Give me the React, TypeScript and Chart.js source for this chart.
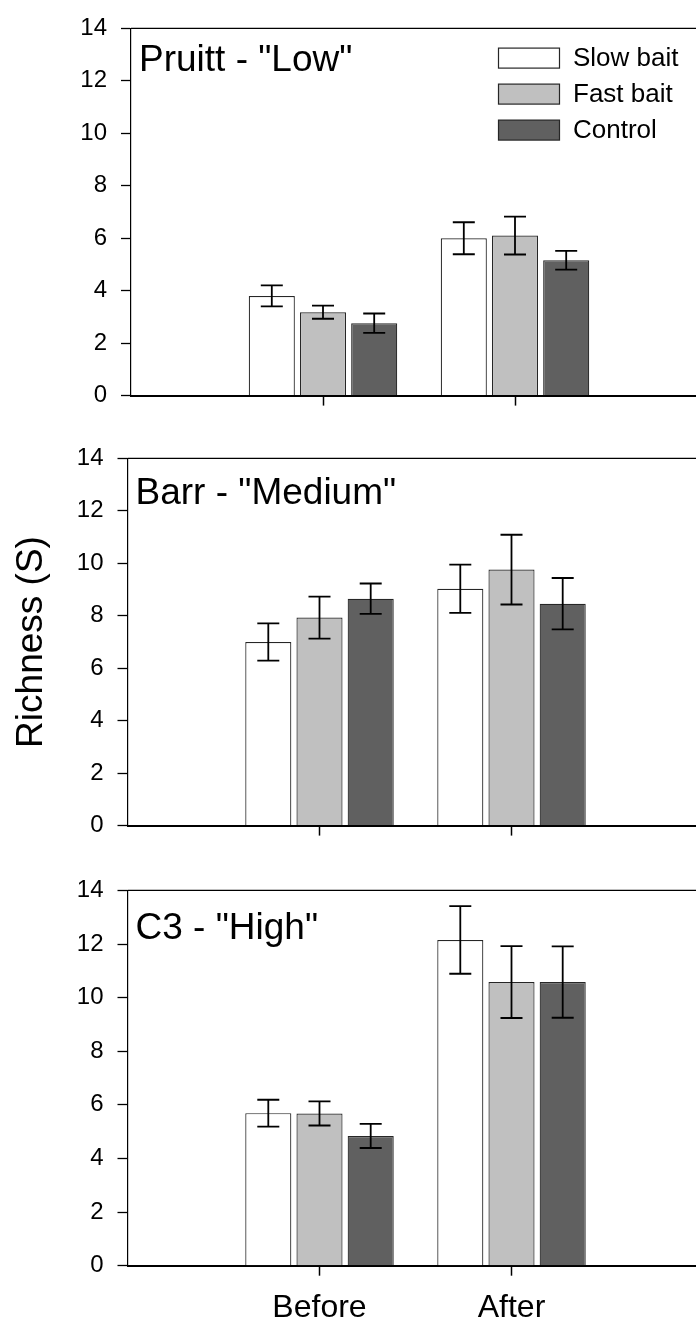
import React, { useEffect, useRef } from 'react';
import { Chart, registerables } from 'chart.js';

Chart.register(...registerables);
Chart.defaults.font.family = '"Liberation Sans", Arial, Helvetica, sans-serif';
Chart.defaults.color = '#000';

// ---- data ----
const categories = ['Before', 'After'];
const seriesNames = ['Slow bait', 'Fast bait', 'Control'];
const seriesColors = ['#ffffff', '#c0c0c0', '#606060'];

// Pruitt - "Low"
const pruittSlow = [3.8, 6.0];
const pruittSlowErr = [0.4, 0.61];
const pruittFast = [3.18, 6.1];
const pruittFastErr = [0.25, 0.72];
const pruittControl = [2.76, 5.16];
const pruittControlErr = [0.37, 0.36];

// Barr - "Medium"
const barrSlow = [7.0, 9.03];
const barrSlowErr = [0.71, 0.92];
const barrFast = [7.93, 9.76];
const barrFastErr = [0.8, 1.33];
const barrControl = [8.65, 8.46];
const barrControlErr = [0.58, 0.98];

// C3 - "High"
const c3Slow = [5.69, 12.15];
const c3SlowErr = [0.5, 1.26];
const c3Fast = [5.68, 10.58];
const c3FastErr = [0.45, 1.34];
const c3Control = [4.84, 10.58];
const c3ControlErr = [0.45, 1.33];

const yMin = 0;
const yMax = 14;
const yStep = 2;
const yTitle = 'Richness (S)';

// ---- layout ----
const CANVAS_W = 720;
const PLOT_W = 576; // four category slots (blank, Before, After, blank)
const CAP_W = 22;

type PanelSpec = {
  title: string;
  values: number[][];
  errors: number[][];
  top: number;
  height: number;
  axisLeft: number;
  plotTop: number;
  plotBottom: number;
  titleBaseline: number;
  legend: boolean;
  categoryLabels: boolean;
  yAxisTitle: boolean;
};

const panels: PanelSpec[] = [
  {
    title: 'Pruitt - "Low"',
    values: [pruittSlow, pruittFast, pruittControl],
    errors: [pruittSlowErr, pruittFastErr, pruittControlErr],
    top: 0, height: 424, axisLeft: 131, plotTop: 19.3, plotBottom: 403.3,
    titleBaseline: 42.5, legend: true, categoryLabels: false, yAxisTitle: false,
  },
  {
    title: 'Barr - "Medium"',
    values: [barrSlow, barrFast, barrControl],
    errors: [barrSlowErr, barrFastErr, barrControlErr],
    top: 430, height: 424, axisLeft: 127.5, plotTop: 449.5, plotBottom: 833.3,
    titleBaseline: 45.7, legend: false, categoryLabels: false, yAxisTitle: true,
  },
  {
    title: 'C3 - "High"',
    values: [c3Slow, c3Fast, c3Control],
    errors: [c3SlowErr, c3FastErr, c3ControlErr],
    top: 862, height: 466, axisLeft: 127.5, plotTop: 881, plotBottom: 1265.7,
    titleBaseline: 49, legend: false, categoryLabels: true, yAxisTitle: false,
  },
];

function Panel({ spec }: { spec: PanelSpec }) {
  const ref = useRef<HTMLCanvasElement | null>(null);

  useEffect(() => {
    const canvas = ref.current;
    if (!canvas) return;

    const axisLabels = ['', ...categories, ''];
    const datasets = seriesNames.map((name, i) => ({
      label: name,
      data: [null, ...spec.values[i], null],
      errors: [null, ...spec.errors[i], null],
      backgroundColor: seriesColors[i],
      borderColor: '#262626',
      borderWidth: 1.2,
      categoryPercentage: 0.8,
      barPercentage: 0.9,
    }));

    const errorBars = {
      id: 'errorBars',
      afterDatasetsDraw(chart: any) {
        const ctx = chart.ctx;
        const yScale = chart.scales.y;
        ctx.save();
        ctx.strokeStyle = '#000';
        ctx.lineWidth = 1.8;
        chart.data.datasets.forEach((ds: any, di: number) => {
          const meta = chart.getDatasetMeta(di);
          meta.data.forEach((bar: any, i: number) => {
            const v = ds.data[i];
            const e = ds.errors[i];
            if (v == null || e == null) return;
            const x = bar.x;
            const hi = yScale.getPixelForValue(v + e);
            const lo = yScale.getPixelForValue(v - e);
            ctx.beginPath();
            ctx.moveTo(x, hi);
            ctx.lineTo(x, lo);
            ctx.moveTo(x - CAP_W / 2, hi);
            ctx.lineTo(x + CAP_W / 2, hi);
            ctx.moveTo(x - CAP_W / 2, lo);
            ctx.lineTo(x + CAP_W / 2, lo);
            ctx.stroke();
          });
        });
        ctx.restore();
      },
    };

    const frameAndLabels = {
      id: 'frameAndLabels',
      afterDraw(chart: any) {
        const ctx = chart.ctx;
        const area = chart.chartArea;
        ctx.save();
        // top frame line
        ctx.strokeStyle = '#000';
        ctx.lineWidth = 1.3;
        ctx.beginPath();
        ctx.moveTo(area.left, area.top);
        ctx.lineTo(area.right, area.top);
        ctx.stroke();

        // panel title
        ctx.fillStyle = '#000';
        ctx.font = '37px "Liberation Sans", Arial, sans-serif';
        ctx.textBaseline = 'alphabetic';
        ctx.textAlign = 'left';
        ctx.fillText(spec.title, area.left + 8, area.top + spec.titleBaseline);

        // series key
        if (spec.legend) {
          const boxX = 498.5;
          const boxW = 61;
          const boxH = 20;
          ctx.font = '26px "Liberation Sans", Arial, sans-serif';
          ctx.textBaseline = 'middle';
          seriesNames.forEach((name, i) => {
            const cy = area.top + 29.7 + i * 36;
            ctx.fillStyle = seriesColors[i];
            ctx.fillRect(boxX, cy - boxH / 2, boxW, boxH);
            ctx.strokeStyle = '#262626';
            ctx.lineWidth = 1.2;
            ctx.strokeRect(boxX, cy - boxH / 2, boxW, boxH);
            ctx.fillStyle = '#000';
            ctx.fillText(name, 573, cy + 1);
          });
        }
        ctx.restore();
      },
    };

    const chart = new Chart(canvas, {
      type: 'bar',
      data: { labels: axisLabels, datasets: datasets as any },
      options: {
        responsive: false,
        animation: false,
        devicePixelRatio: 1,
        layout: {
          padding: {
            left: 0,
            right: CANVAS_W - (spec.axisLeft + PLOT_W),
            top: spec.plotTop - spec.top,
            bottom: 0,
          },
        },
        plugins: {
          legend: { display: false },
          tooltip: { enabled: false },
        },
        scales: {
          x: {
            type: 'category',
            offset: false,
            z: 1,
            grid: {
              display: true,
              offset: false,
              drawOnChartArea: false,
              drawTicks: true,
              tickLength: 10,
              tickWidth: 1.5,
              tickColor: (c: any) => (c.index === 1 || c.index === 2 ? '#000' : 'rgba(0,0,0,0)'),
            },
            border: { display: true, color: '#000', width: 2 },
            ticks: {
              display: spec.categoryLabels,
              padding: 13,
              autoSkip: false,
              maxRotation: 0,
              color: '#000',
              font: { size: 32 },
            },
            afterFit: (s: any) => {
              s.height = spec.top + spec.height - spec.plotBottom;
            },
          },
          y: {
            min: yMin,
            max: yMax,
            z: 1,
            ticks: { stepSize: yStep, padding: 14, color: '#000', font: { size: 24 } },
            grid: {
              drawOnChartArea: false,
              drawTicks: true,
              tickLength: 10,
              tickWidth: 1.3,
              tickColor: '#000',
            },
            border: { display: true, color: '#000', width: 1.2 },
            title: {
              display: spec.yAxisTitle,
              text: yTitle,
              color: '#000',
              font: { size: 37 },
              padding: { top: 10, bottom: 0 },
            },
            afterFit: (s: any) => {
              s.width = spec.axisLeft;
            },
          },
        },
      } as any,
      plugins: [errorBars, frameAndLabels],
    });

    return () => chart.destroy();
  }, [spec]);

  return (
    <canvas
      ref={ref}
      width={CANVAS_W}
      height={spec.height}
      style={{ position: 'absolute', left: 0, top: spec.top, display: 'block' }}
    />
  );
}

export default function App() {
  return (
    <div
      style={{
        position: 'absolute',
        left: 0,
        top: 0,
        width: 696,
        height: 1328,
        overflow: 'hidden',
        background: '#fff',
      }}
    >
      {panels.map((p) => (
        <Panel key={p.title} spec={p} />
      ))}
    </div>
  );
}
